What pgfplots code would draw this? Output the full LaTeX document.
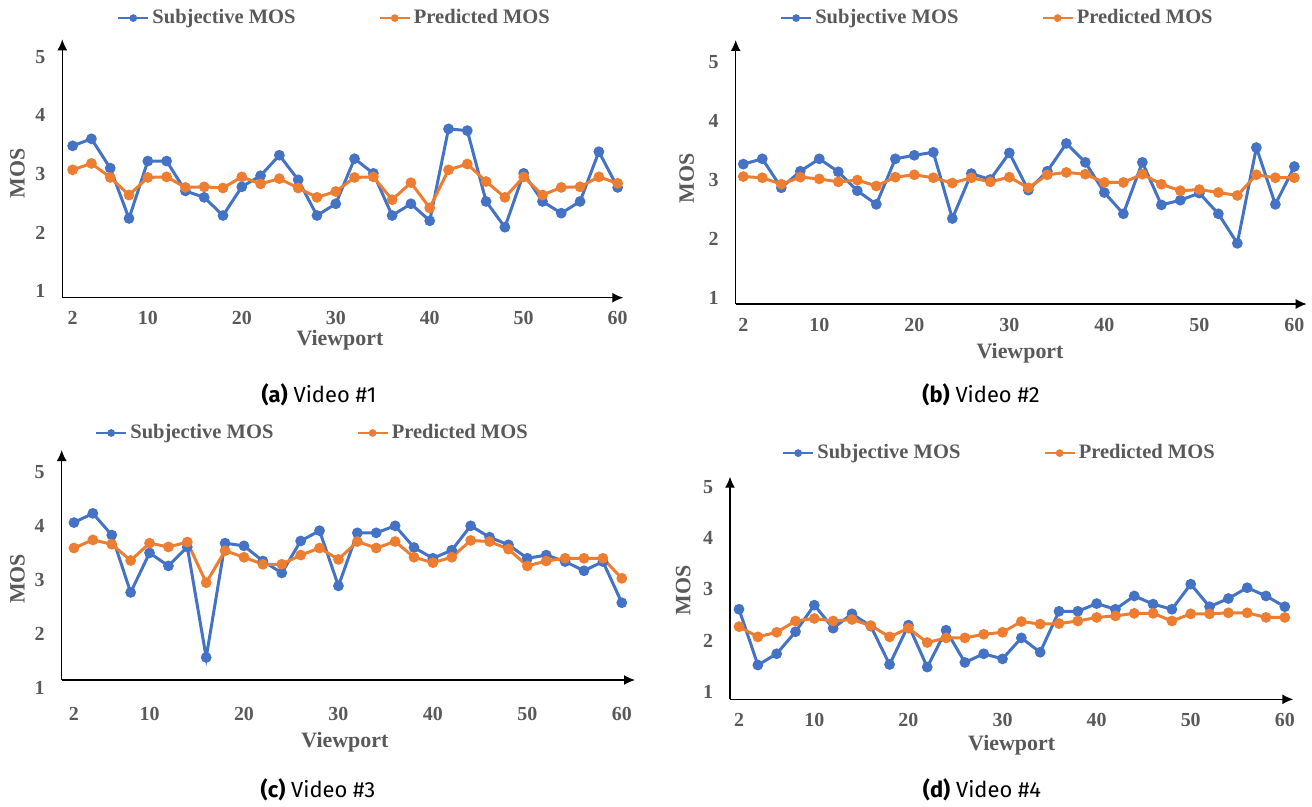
\documentclass[border=0pt]{standalone}
\usepackage{fontspec}
\setmainfont{Liberation Serif}
\newfontfamily\capfont{Fira Sans}
\usepackage{pgfplots}
\usepackage{pgfplotstable}
\pgfplotsset{compat=1.18}
\usetikzlibrary{arrows.meta}
\definecolor{sblue}{HTML}{4472C4}
\definecolor{sorange}{HTML}{ED7D31}
\definecolor{tgray}{HTML}{595959}

\pgfplotstableread{
x subj pred
2 3.48 3.07
4 3.60 3.18
6 3.10 2.94
8 2.24 2.64
10 3.22 2.94
12 3.22 2.95
14 2.71 2.77
16 2.60 2.78
18 2.29 2.76
20 2.78 2.95
22 2.97 2.83
24 3.32 2.92
26 2.90 2.76
28 2.29 2.60
30 2.49 2.70
32 3.26 2.94
34 3.01 2.95
36 2.29 2.56
38 2.49 2.85
40 2.20 2.42
42 3.77 3.07
44 3.74 3.17
46 2.53 2.87
48 2.09 2.60
50 3.01 2.95
52 2.53 2.64
54 2.33 2.77
56 2.53 2.78
58 3.38 2.95
60 2.77 2.84
}\tabA

\pgfplotstableread{
x subj pred
2 3.27 3.06
4 3.36 3.04
6 2.87 2.93
8 3.15 3.05
10 3.36 3.02
12 3.14 2.97
14 2.82 3.00
16 2.59 2.90
18 3.36 3.05
20 3.42 3.09
22 3.47 3.04
24 2.35 2.95
26 3.11 3.04
28 3.01 2.97
30 3.46 3.05
32 2.83 2.87
34 3.15 3.09
36 3.62 3.13
38 3.30 3.10
40 2.79 2.96
42 2.43 2.96
44 3.30 3.10
46 2.58 2.93
48 2.66 2.82
50 2.78 2.84
52 2.43 2.79
54 1.93 2.74
56 3.55 3.09
58 2.59 3.04
60 3.23 3.04
}\tabB

\pgfplotstableread{
x subj pred
2 4.06 3.59
4 4.23 3.74
6 3.83 3.66
8 2.77 3.36
10 3.50 3.68
12 3.26 3.61
14 3.61 3.70
16 1.57 2.95
18 3.68 3.54
20 3.63 3.42
22 3.35 3.29
24 3.13 3.29
26 3.72 3.46
28 3.91 3.59
30 2.89 3.38
32 3.87 3.71
34 3.87 3.59
36 4.00 3.71
38 3.60 3.42
40 3.40 3.32
42 3.55 3.42
44 4.00 3.73
46 3.79 3.71
48 3.65 3.57
50 3.40 3.26
52 3.46 3.35
54 3.34 3.40
56 3.17 3.40
58 3.34 3.40
60 2.58 3.03
}\tabC

\pgfplotstableread{
x subj pred
2 2.61 2.27
4 1.52 2.07
6 1.74 2.16
8 2.17 2.38
10 2.69 2.43
12 2.24 2.38
14 2.52 2.41
16 2.28 2.29
18 1.53 2.07
20 2.30 2.24
22 1.48 1.96
24 2.20 2.05
26 1.57 2.05
28 1.74 2.12
30 1.64 2.16
32 2.05 2.37
34 1.77 2.32
36 2.57 2.33
38 2.57 2.38
40 2.72 2.45
42 2.61 2.48
44 2.87 2.53
46 2.71 2.53
48 2.61 2.38
50 3.10 2.52
52 2.66 2.52
54 2.82 2.54
56 3.03 2.54
58 2.87 2.45
60 2.66 2.45
}\tabD

\pgfplotsset{
  mosstyle/.style={
    scale only axis,
    anchor=south west,
    axis lines=left,
    axis line style={black, line width=0.7bp, -{Latex[length=5.5bp,width=5bp]}},
    xtick={2,10,20,30,40,50,60},
    ytick={1,2,3,4,5},
    major tick length=0pt,
    /pgf/number format/assume math mode=true,
    ticklabel style={font=\fontsize{10}{12}\selectfont\bfseries, text=tgray},
    yticklabel style={xshift=-5bp},
    label style={font=\fontsize{11}{13}\selectfont\bfseries, text=tgray},
    xlabel={Viewport}, ylabel={MOS},
    xlabel style={anchor=center},
    ylabel style={anchor=center, rotate=0},
    legend columns=2,
    legend cell align=left,
    legend style={draw=none, fill=none, anchor=center,
      font=\fontsize{10.3}{13}\selectfont\bfseries, text=tgray,
      inner sep=0pt,
      nodes={inner sep=1.5bp},
      /tikz/every even column/.append style={column sep=40bp}},
    legend image code/.code={\draw[mark repeat=2,mark phase=2,#1,mark size=1.3bp,line width=1.2bp] plot coordinates {(0bp,0bp) (7.5bp,0bp) (15bp,0bp)};},
    clip=false,
  },
  subjp/.style={color=sblue, mark=*, line width=1.5bp, mark size=1.9bp},
  predp/.style={color=sorange, mark=*, line width=1.5bp, mark size=1.9bp},
}

\begin{document}
\begin{tikzpicture}
\path[use as bounding box] (0,0) rectangle (656bp,-403.5bp);

% (a)
\begin{axis}[mosstyle,
  at={(31.15bp,-148.85bp)}, width=280.5bp, height=129.2bp,
  xmin=0.9, xmax=60.6, ymin=0.886, ymax=5.30,
  xticklabel style={yshift=-3.5bp},
  xlabel style={at={(axis description cs:0.495,-0.163)}},
  ylabel style={at={(axis description cs:-0.080,0.48)}},
  legend style={at={(axis description cs:0.486,1.082)}},
]
\addplot[subjp] table[x=x,y=subj] {\tabA};
\addlegendentry{Subjective MOS}
\addplot[predp] table[x=x,y=pred] {\tabA};
\addlegendentry{Predicted MOS}
\end{axis}

% (b)
\begin{axis}[mosstyle,
  at={(367.85bp,-152bp)}, width=285.5bp, height=132bp,
  xmin=1.2, xmax=61.3, ymin=0.904, ymax=5.37,
  xticklabel style={yshift=-3.5bp},
  xlabel style={at={(axis description cs:0.498,-0.186)}},
  ylabel style={at={(axis description cs:-0.086,0.477)}},
  legend style={at={(axis description cs:0.459,1.083)}},
]
\addplot[subjp] table[x=x,y=subj] {\tabB};
\addlegendentry{Subjective MOS}
\addplot[predp] table[x=x,y=pred] {\tabB};
\addlegendentry{Predicted MOS}
\end{axis}

% (c)
\begin{axis}[mosstyle,
  at={(30.85bp,-340bp)}, width=286.65bp, height=115bp,
  xmin=0.7, xmax=61.4, ymin=1.153, ymax=5.40,
  xticklabel style={yshift=-10bp},
  xlabel style={at={(axis description cs:0.494,-0.27)}},
  ylabel style={at={(axis description cs:-0.077,0.44)}},
  legend style={at={(axis description cs:0.438,1.074)}},
]
\addplot[subjp] table[x=x,y=subj] {\tabC};
\addlegendentry{Subjective MOS}
\addplot[predp] table[x=x,y=pred] {\tabC};
\addlegendentry{Predicted MOS}
\node[anchor=east, inner sep=0.333em, xshift=-5bp, font=\fontsize{10}{12}\selectfont\bfseries, text=tgray] at (axis cs:0.7,1) {1};
\end{axis}

% (d)
\begin{axis}[mosstyle,
  at={(365bp,-349.65bp)}, width=281.65bp, height=111.3bp,
  xmin=1.04, xmax=60.9, ymin=0.85, ymax=5.2,
  xticklabel style={yshift=-3.5bp},
  xlabel style={at={(axis description cs:0.5,-0.207)}},
  ylabel style={at={(axis description cs:-0.083,0.49)}},
  legend style={at={(axis description cs:0.479,1.106)}},
]
\addplot[subjp] table[x=x,y=subj] {\tabD};
\addlegendentry{Subjective MOS}
\addplot[predp] table[x=x,y=pred] {\tabD};
\addlegendentry{Predicted MOS}
\end{axis}

\node[font=\capfont\fontsize{11}{13}\selectfont] at (159.5bp,-197.5bp) {\textbf{(a)} Video \#1};
\node[font=\capfont\fontsize{11}{13}\selectfont] at (490.5bp,-197.5bp) {\textbf{(b)} Video \#2};
\node[font=\capfont\fontsize{11}{13}\selectfont] at (159bp,-395bp) {\textbf{(c)} Video \#3};
\node[font=\capfont\fontsize{11}{13}\selectfont] at (491bp,-395bp) {\textbf{(d)} Video \#4};
\end{tikzpicture}
\end{document}
